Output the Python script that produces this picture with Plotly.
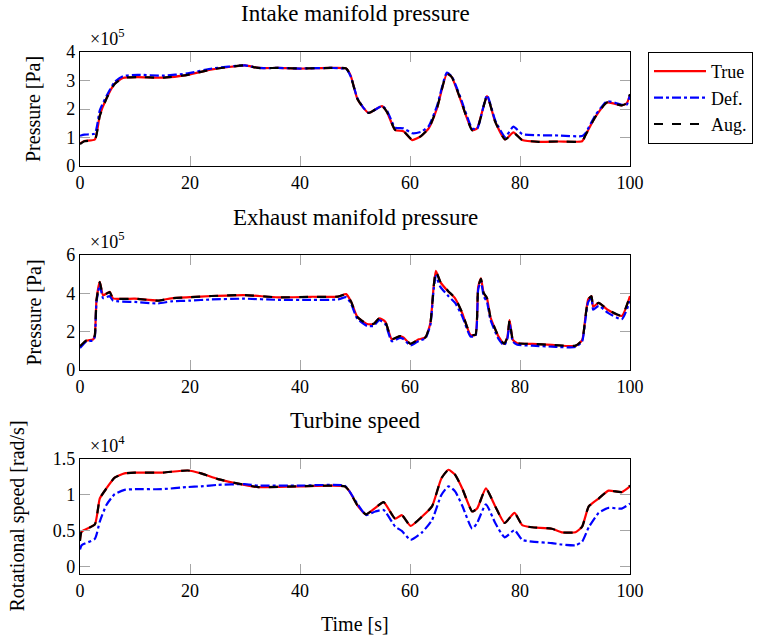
import plotly.graph_objects as go

# ---------------- data (pressures in 1e5 Pa, speed in 1e4 rad/s) ----------------
t_intake = [0, 0.8, 2.7, 3.6, 4.8, 6.3, 7.8, 10.5, 15, 19.6, 24, 30, 32.4, 36, 40, 45.7, 48.4, 49.2, 50.4, 51.5,
            52.5, 54.9, 55.8, 57.3, 58.8, 60.4, 62, 63.4, 64.9, 66.7, 67.6, 69.1, 71.3, 72.2, 74, 75.5, 77.3, 78.8,
            80.4, 83.4, 87, 91.3, 91.9, 93.7, 95.8, 98.5, 99.4, 100]
intake_true = [0.79, 0.88, 0.93, 1.78, 2.37, 2.89, 3.09, 3.12, 3.10, 3.20, 3.39, 3.53, 3.44, 3.44, 3.42, 3.44, 3.42,
               3.18, 2.37, 2.05, 1.86, 2.10, 1.90, 1.26, 1.22, 0.91, 1.05, 1.32, 2.02, 3.24, 3.12, 2.37, 1.26, 1.32,
               2.45, 1.55, 0.93, 1.18, 0.91, 0.85, 0.86, 0.87, 1.08, 1.72, 2.23, 2.13, 2.20, 2.50]
intake_def = [1.06, 1.10, 1.14, 1.95, 2.45, 2.95, 3.15, 3.20, 3.17, 3.25, 3.42, 3.53, 3.44, 3.44, 3.42, 3.44, 3.40,
              3.15, 2.40, 2.05, 1.86, 2.10, 1.95, 1.35, 1.32, 1.15, 1.20, 1.40, 2.10, 3.28, 3.14, 2.45, 1.32, 1.30,
              2.48, 1.60, 1.02, 1.38, 1.12, 1.08, 1.07, 1.05, 1.15, 1.78, 2.27, 2.15, 2.15, 2.50]
intake_aug = [0.77, 0.87, 0.92, 1.76, 2.36, 2.88, 3.09, 3.12, 3.10, 3.20, 3.39, 3.53, 3.44, 3.44, 3.42, 3.44, 3.42,
              3.17, 2.37, 2.05, 1.86, 2.10, 1.90, 1.27, 1.22, 0.92, 1.05, 1.32, 2.02, 3.24, 3.12, 2.38, 1.25, 1.30,
              2.45, 1.55, 0.93, 1.17, 0.91, 0.85, 0.86, 0.87, 1.08, 1.72, 2.23, 2.13, 2.20, 2.52]

t_exhaust = [0, 1.15, 2.4, 2.7, 3.0, 3.6, 4.2, 5.4, 6.0, 10, 14.2, 16.6, 20, 23.9, 29.9, 36, 42, 46.9, 48.4, 49.3,
             50.4, 52.2, 53.4, 54.4, 55.5, 56.7, 58.2, 58.8, 60.1, 61.6, 62.8, 63.7, 64.3, 64.7, 65.5, 67, 68.2, 69.5,
             71, 71.9, 72.4, 72.9, 73.4, 74, 74.6, 76.1, 77.1, 77.7, 78.1, 78.7, 79.5, 82.2, 85.8, 90.1, 91.3, 91.9,
             92.4, 93, 93.3, 94.3, 96, 98.5, 100]
exhaust_true = [1.22, 1.53, 1.60, 1.83, 3.65, 4.60, 3.90, 4.08, 3.74, 3.72, 3.62, 3.74, 3.80, 3.86, 3.91, 3.79, 3.82,
                3.83, 3.96, 3.56, 2.78, 2.40, 2.40, 2.70, 2.52, 1.60, 1.77, 1.70, 1.36, 1.60, 1.70, 2.44, 4.35, 5.18,
                4.60, 4.08, 3.74, 2.96, 1.83, 1.83, 4.35, 4.78, 4.00, 3.74, 2.78, 1.74, 1.36, 1.70, 2.60, 1.57, 1.40,
                1.36, 1.31, 1.26, 1.56, 2.78, 3.69, 3.86, 3.30, 3.50, 3.13, 2.82, 3.86]
exhaust_def = [1.15, 1.48, 1.55, 1.75, 3.55, 4.45, 3.75, 3.85, 3.62, 3.55, 3.47, 3.58, 3.62, 3.68, 3.72, 3.66, 3.66,
               3.68, 3.80, 3.45, 2.68, 2.30, 2.30, 2.60, 2.40, 1.50, 1.68, 1.62, 1.28, 1.52, 1.65, 2.35, 4.20, 4.90,
               4.35, 3.85, 3.50, 2.80, 1.75, 1.78, 4.20, 4.65, 3.85, 3.55, 2.65, 1.62, 1.28, 1.62, 2.45, 1.48, 1.32,
               1.27, 1.22, 1.20, 1.50, 2.65, 3.55, 3.75, 3.15, 3.35, 2.98, 2.65, 3.60]
exhaust_aug = [1.24, 1.54, 1.60, 1.82, 3.63, 4.58, 3.90, 4.07, 3.74, 3.72, 3.62, 3.74, 3.80, 3.86, 3.91, 3.79, 3.82,
               3.83, 3.95, 3.56, 2.78, 2.40, 2.41, 2.70, 2.52, 1.61, 1.77, 1.70, 1.37, 1.60, 1.70, 2.44, 4.33, 5.15,
               4.62, 4.10, 3.76, 2.98, 1.85, 1.84, 4.33, 4.75, 4.02, 3.75, 2.80, 1.75, 1.37, 1.70, 2.58, 1.58, 1.41,
               1.36, 1.31, 1.27, 1.57, 2.78, 3.68, 3.85, 3.32, 3.50, 3.14, 2.84, 3.88]

t_turbine = [0, 0.3, 2.7, 3.6, 4.8, 6.3, 8.1, 10, 14.8, 19.6, 22, 25.1, 29.9, 32.4, 40, 48.1, 49, 50.4, 52, 53.7,
             55.2, 57.3, 58.5, 60.1, 62.2, 64, 65.7, 67, 68.2, 69.5, 71.3, 72.2, 73.8, 75.5, 77.2, 79, 80.4, 82.2,
             85.8, 87.6, 90.1, 91.3, 92.5, 94.3, 96.1, 98.5, 100]
turbine_true = [0.375, 0.49, 0.59, 0.95, 1.09, 1.24, 1.30, 1.31, 1.31, 1.34, 1.30, 1.22, 1.14, 1.11, 1.12, 1.12, 1.05,
                0.86, 0.73, 0.82, 0.90, 0.67, 0.72, 0.57, 0.70, 0.84, 1.23, 1.35, 1.28, 1.09, 0.77, 0.81, 1.09, 0.84,
                0.61, 0.75, 0.58, 0.55, 0.53, 0.48, 0.48, 0.56, 0.84, 0.95, 1.06, 1.04, 1.12]
turbine_def = [0.24, 0.30, 0.39, 0.63, 0.86, 1.01, 1.07, 1.08, 1.08, 1.11, 1.12, 1.14, 1.15, 1.13, 1.13, 1.13, 1.05,
               0.88, 0.72, 0.77, 0.79, 0.56, 0.50, 0.375, 0.48, 0.65, 1.00, 1.12, 1.05, 0.85, 0.53, 0.61, 0.87, 0.61,
               0.41, 0.51, 0.375, 0.35, 0.33, 0.31, 0.30, 0.35, 0.55, 0.75, 0.82, 0.81, 0.88]
turbine_aug = [0.36, 0.49, 0.59, 0.95, 1.09, 1.24, 1.30, 1.31, 1.31, 1.34, 1.30, 1.22, 1.14, 1.11, 1.12, 1.12, 1.05,
               0.86, 0.73, 0.82, 0.90, 0.67, 0.72, 0.57, 0.70, 0.84, 1.23, 1.35, 1.28, 1.09, 0.77, 0.81, 1.09, 0.84,
               0.61, 0.75, 0.58, 0.55, 0.53, 0.48, 0.48, 0.56, 0.84, 0.95, 1.06, 1.04, 1.13]

panel_titles = ["Intake manifold pressure", "Exhaust manifold pressure", "Turbine speed"]
y_labels = ["Pressure [Pa]", "Pressure [Pa]", "Rotational speed [rad/s]"]
exponents = ["×10<sup>5</sup>", "×10<sup>5</sup>", "×10<sup>4</sup>"]
series_names = ["True", "Def.", "Aug."]
x_ticks = [0, 20, 40, 60, 80, 100]

# ---------------- figure ----------------
W, H = 758, 639
FONT = "Liberation Serif"
px_left, px_right = 80, 630
panels_px = [(52, 166), (255, 370), (459, 574)]
y_ranges = [[0, 4], [0, 6], [-0.1, 1.5]]
y_dticks = [1, 2, 0.5]

def py(p):
    return 1 - p / H

fig = go.Figure()
styles = [dict(color="red", width=2.2, dash="solid"),
          dict(color="blue", width=2.2, dash="dashdot"),
          dict(color="black", width=2.2, dash="dash")]

data = [
    (t_intake, [intake_true, intake_def, intake_aug]),
    (t_exhaust, [exhaust_true, exhaust_def, exhaust_aug]),
    (t_turbine, [turbine_true, turbine_def, turbine_aug]),
]

for i, (tt, ys) in enumerate(data):
    ax = "" if i == 0 else str(i + 1)
    for j, yv in enumerate(ys):
        fig.add_trace(go.Scatter(
            x=tt, y=yv, mode="lines", name=series_names[j],
            line=dict(**styles[j], shape="spline", smoothing=0.5),
            xaxis="x" + ax, yaxis="y" + ax, showlegend=(i == 0)))

axis_common = dict(showline=True, linecolor="black", linewidth=1.2, mirror="ticks",
                   ticks="inside", ticklen=10, tickcolor="#a6a6a6", tickwidth=1.3,
                   showgrid=False, zeroline=False, automargin=False,
                   tickfont=dict(family=FONT, size=18, color="black"))

layout_axes = {}
for i, (top, bot) in enumerate(panels_px):
    ax = "" if i == 0 else str(i + 1)
    layout_axes["xaxis" + ax] = dict(axis_common, domain=[px_left / W, px_right / W], range=[0, 100],
                                     tickvals=x_ticks, anchor="y" + ax)
    layout_axes["yaxis" + ax] = dict(axis_common, domain=[py(bot), py(top)], range=y_ranges[i],
                                     dtick=y_dticks[i], tick0=0, anchor="x" + ax)

fig.update_layout(**layout_axes)

annotations = []
title_y = [14, 217, 420]
for i, (top, bot) in enumerate(panels_px):
    annotations.append(dict(text=panel_titles[i], x=(px_left + px_right) / 2 / W, y=py(title_y[i]),
                            xref="paper", yref="paper", showarrow=False, xanchor="center", yanchor="middle",
                            font=dict(family=FONT, size=23, color="black")))
    annotations.append(dict(text=exponents[i], x=88 / W, y=py(top - 1), xref="paper", yref="paper",
                            showarrow=False, xanchor="left", yanchor="bottom",
                            font=dict(family=FONT, size=18, color="black")))
    lx = 33 if i < 2 else 17
    annotations.append(dict(text=y_labels[i], x=lx / W, y=py((top + bot) / 2), xref="paper", yref="paper",
                            showarrow=False, xanchor="center", yanchor="middle", textangle=-90,
                            font=dict(family=FONT, size=20, color="black")))
annotations.append(dict(text="Time [s]", x=(px_left + px_right) / 2 / W, y=py(624), xref="paper", yref="paper",
                        showarrow=False, xanchor="center", yanchor="middle",
                        font=dict(family=FONT, size=20, color="black")))

fig.update_layout(
    width=W, height=H, margin=dict(l=0, r=0, t=0, b=0, autoexpand=False),
    paper_bgcolor="white", plot_bgcolor="white",
    annotations=annotations,
    legend=dict(x=648 / W, y=py(52), xanchor="left", yanchor="top",
                bordercolor="black", borderwidth=1, bgcolor="white",
                font=dict(family=FONT, size=18, color="black"), itemwidth=52,
                tracegroupgap=0),
    font=dict(family=FONT),
)

fig.write_html("out.html")
